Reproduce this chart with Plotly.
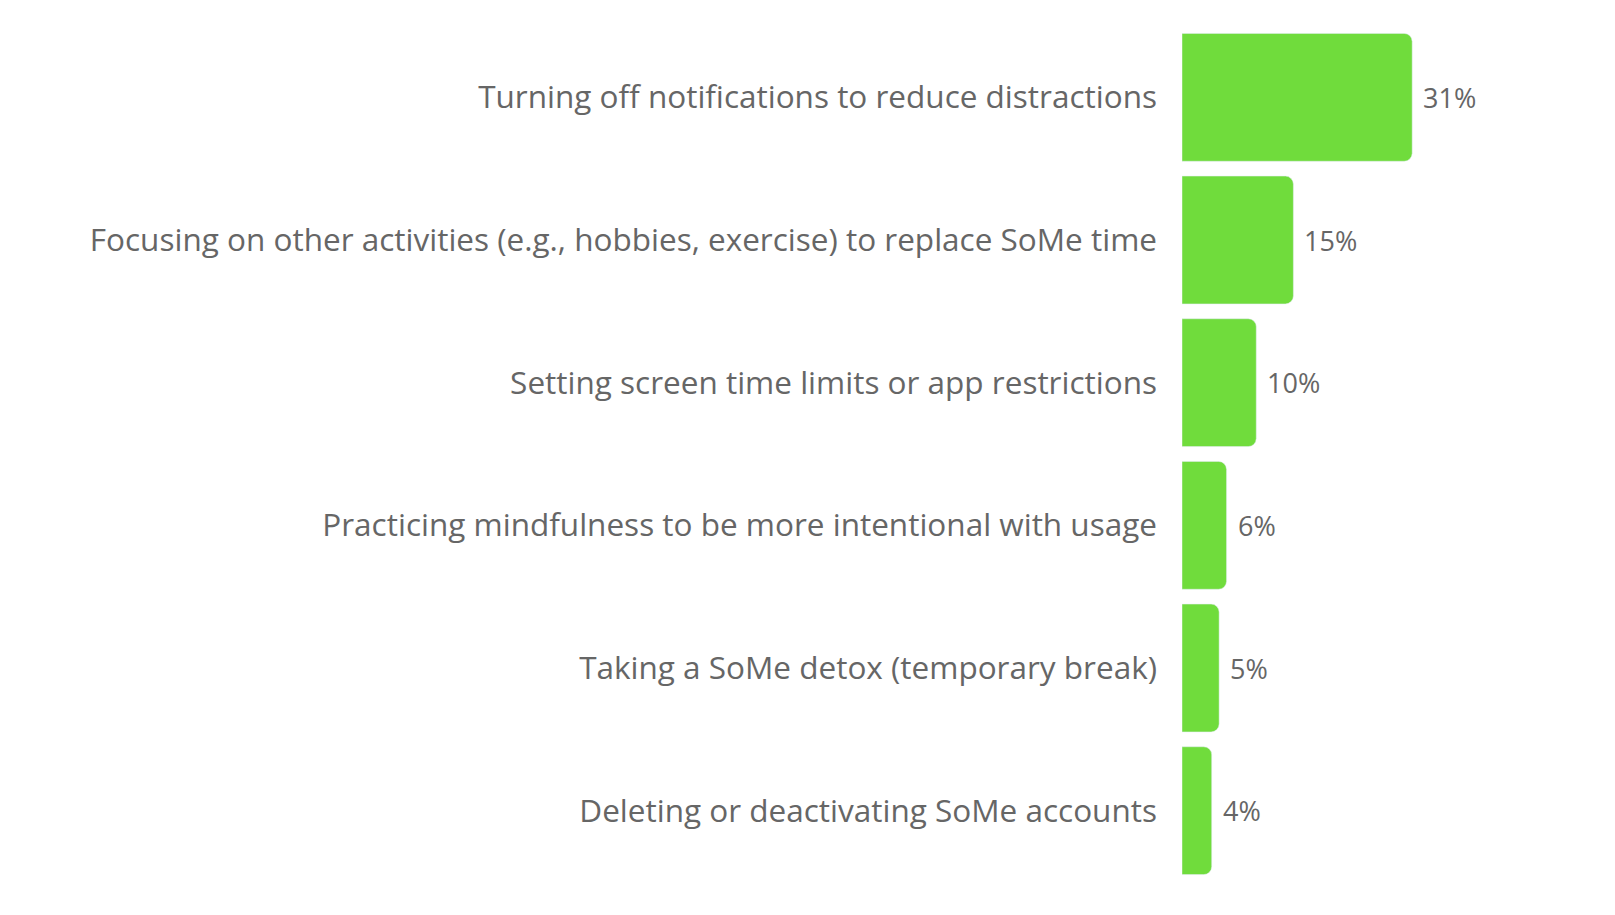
import plotly.graph_objects as go

categories = [
    "Turning off notifications to reduce distractions",
    "Focusing on other activities (e.g., hobbies, exercise) to replace SoMe time",
    "Setting screen time limits or app restrictions",
    "Practicing mindfulness to be more intentional with usage",
    "Taking a SoMe detox (temporary break)",
    "Deleting or deactivating SoMe accounts",
]
values = [31, 15, 10, 6, 5, 4]
value_labels = ["31%", "15%", "10%", "6%", "5%", "4%"]

fig = go.Figure(go.Bar(
    x=values,
    y=categories,
    orientation="h",
    marker=dict(color="#70DC3C", cornerradius=8),
    hoverinfo="skip",
))

# value labels just right of each bar
for cat, val, lab in zip(categories, values, value_labels):
    fig.add_annotation(x=val, y=cat, text=lab, showarrow=False,
                       xanchor="left", xshift=9,
                       font=dict(family="Open Sans", size=27, color="#666666"))

fig.update_layout(
    width=1615, height=915,
    margin=dict(l=1174, r=144, t=18, b=41),
    plot_bgcolor="white", paper_bgcolor="white",
    font=dict(family="Open Sans", size=30, color="#666666"),
    bargap=0.104,
    showlegend=False,
    xaxis=dict(range=[0, 40], visible=False),
    yaxis=dict(autorange="reversed", showgrid=False, showline=False, zeroline=False,
               ticks="", ticklabelstandoff=24, tickfont=dict(size=31.5)),
)

fig.write_html("out.html")
